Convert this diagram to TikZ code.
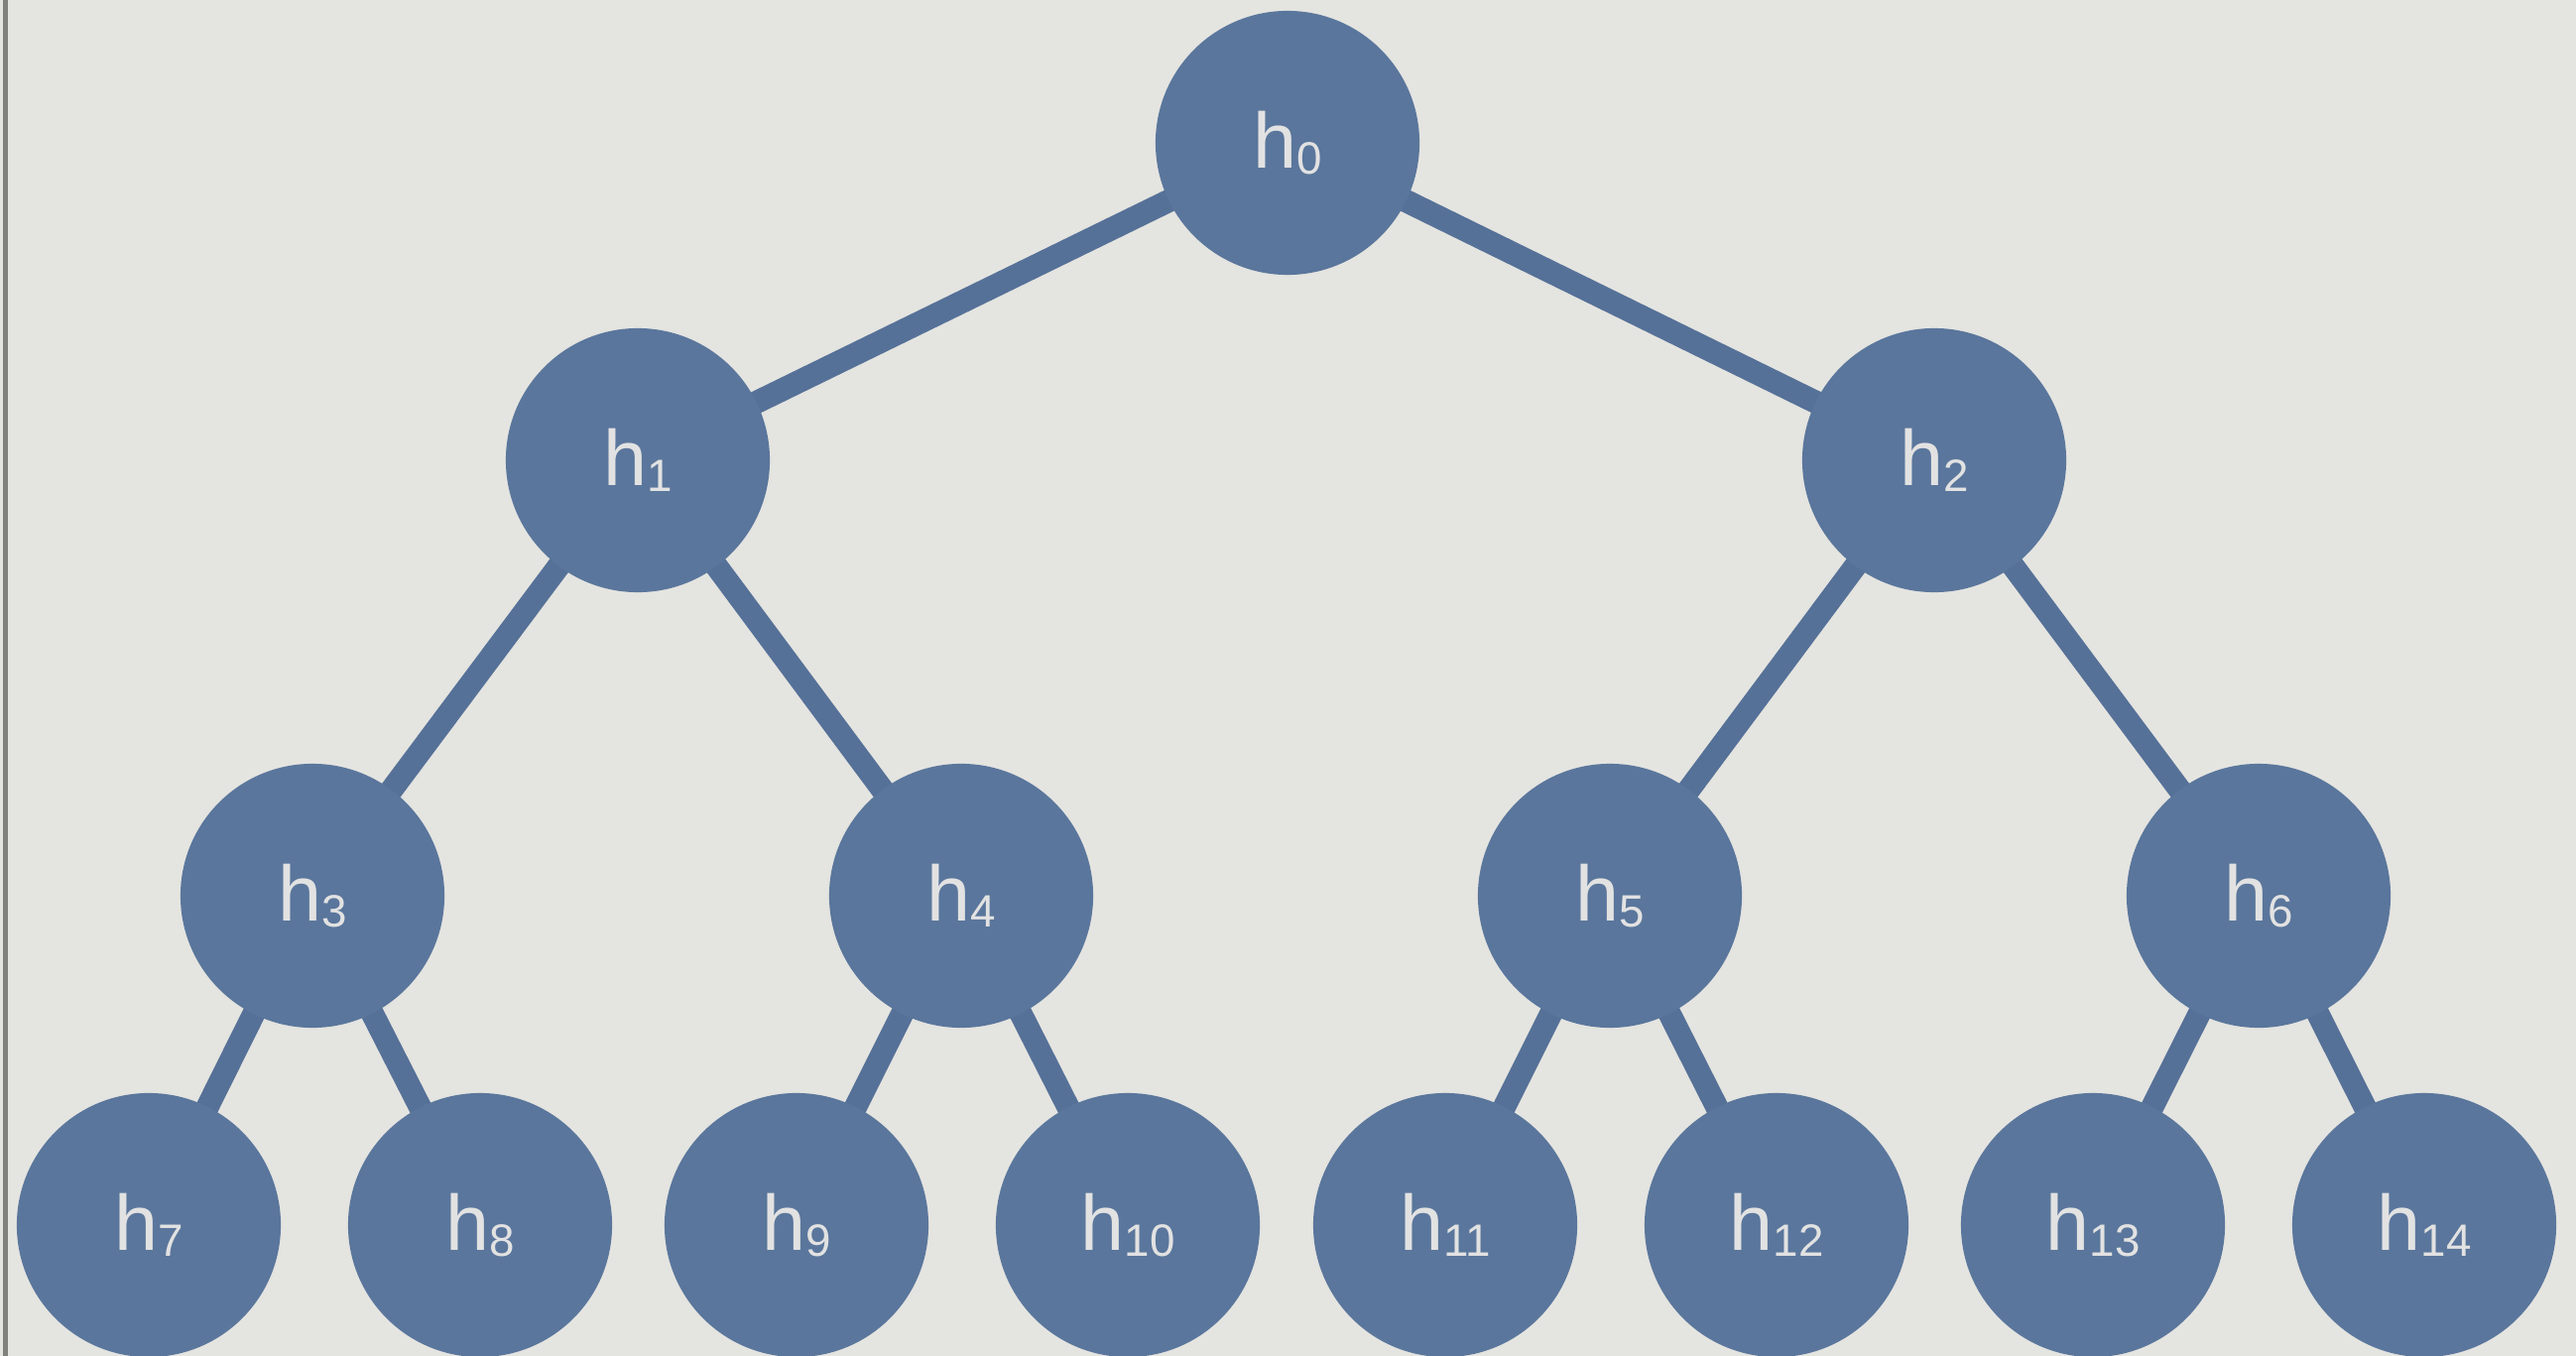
\documentclass[tikz,border=0pt]{standalone}
\usepackage{fontspec}
\setmainfont{Liberation Sans}
\pgfdeclarelayer{back}
\pgfdeclarelayer{edges}
\pgfsetlayers{back,edges,main}
\definecolor{paper}{RGB}{228,228,224}
\definecolor{nodeblue}{RGB}{90,118,156}
\definecolor{edgeblue}{RGB}{86,113,152}
\definecolor{labelgray}{RGB}{226,226,226}
\definecolor{rulegray}{RGB}{128,128,124}
\newcommand{\hlab}[1]{\fontsize{22.5}{22.5}\selectfont h\raisebox{-0.06cm}{\fontsize{13}{13}\selectfont #1}}
\tikzset{
  hnode/.style={circle, fill=nodeblue, minimum size=2.66cm, inner sep=0pt, text=labelgray},
  hedge/.style={draw=edgeblue, line width=0.23cm}
}
\begin{document}
\begin{tikzpicture}[x=0.01cm,y=-0.01cm]
\begin{pgfonlayer}{back}
  \fill[paper] (0,0) rectangle (2597,1367);
  \fill[rulegray] (3,0) rectangle (8,1367);
\end{pgfonlayer}
\useasboundingbox (0,0) rectangle (2597,1367);
\node[hnode] (h0) at (1298,144) {\hlab{0}};
\node[hnode] (h1) at (643,464) {\hlab{1}};
\node[hnode] (h2) at (1950,464) {\hlab{2}};
\node[hnode] (h3) at (315,903) {\hlab{3}};
\node[hnode] (h4) at (969,903) {\hlab{4}};
\node[hnode] (h5) at (1623,903) {\hlab{5}};
\node[hnode] (h6) at (2277,903) {\hlab{6}};
\node[hnode] (h7) at (150,1235) {\hlab{7}};
\node[hnode] (h8) at (484,1235) {\hlab{8}};
\node[hnode] (h9) at (803,1235) {\hlab{9}};
\node[hnode] (h10) at (1137,1235) {\hlab{10}};
\node[hnode] (h11) at (1457,1235) {\hlab{11}};
\node[hnode] (h12) at (1791,1235) {\hlab{12}};
\node[hnode] (h13) at (2110,1235) {\hlab{13}};
\node[hnode] (h14) at (2444,1235) {\hlab{14}};
\begin{pgfonlayer}{edges}
  \draw[hedge] (h0.center) -- (h1.center);
  \draw[hedge] (h0.center) -- (h2.center);
  \draw[hedge] (h1.center) -- (h3.center);
  \draw[hedge] (h1.center) -- (h4.center);
  \draw[hedge] (h2.center) -- (h5.center);
  \draw[hedge] (h2.center) -- (h6.center);
  \draw[hedge] (h3.center) -- (h7.center);
  \draw[hedge] (h3.center) -- (h8.center);
  \draw[hedge] (h4.center) -- (h9.center);
  \draw[hedge] (h4.center) -- (h10.center);
  \draw[hedge] (h5.center) -- (h11.center);
  \draw[hedge] (h5.center) -- (h12.center);
  \draw[hedge] (h6.center) -- (h13.center);
  \draw[hedge] (h6.center) -- (h14.center);
\end{pgfonlayer}
\end{tikzpicture}
\end{document}
